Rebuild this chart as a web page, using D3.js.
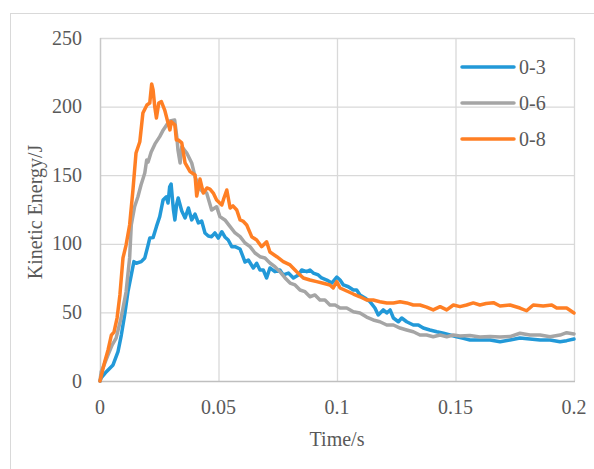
<!DOCTYPE html>
<html><head><meta charset="utf-8">
<script src="https://cdn.jsdelivr.net/npm/d3@7"></script>
<style>body{margin:0;background:#fff}svg{display:block}text{font-family:"Liberation Serif","Times New Roman",serif;fill:#595959}</style>
</head><body><div id="chart"></div>
<script>
const seriesNames = ["0-3","0-6","0-8"];
const seriesColors = ["#2299d8","#a5a5a5","#ff7f24"];
const xTicks = [0,0.05,0.1,0.15,0.2];
const xTickLabels = ["0","0.05","0.1","0.15","0.2"];
const yTicks = [0,50,100,150,200,250];
const yTickLabels = ["0","50","100","150","200","250"];

// 0-3
const t03 = [0,0.0005,0.0027,0.0055,0.0076,0.0090,0.0104,0.0118,0.0132,0.0143,0.0153,0.0174,0.0189,0.0203,0.0210,0.0224,0.0238,0.0252,0.0266,0.0280,0.0287,0.0294,0.0300,0.0306,0.0310,0.0316,0.0323,0.0330,0.0345,0.0359,0.0373,0.0387,0.0401,0.0415,0.0429,0.0443,0.0457,0.0471,0.0485,0.0499,0.0514,0.0527,0.0541,0.0556,0.0570,0.0591,0.0612,0.0626,0.0647,0.0661,0.0675,0.0689,0.0703,0.0717,0.0738,0.0759,0.0773,0.0795,0.0816,0.0837,0.0851,0.0872,0.0886,0.0900,0.0921,0.0935,0.0957,0.0978,0.0999,0.1013,0.1027,0.1048,0.1069,0.1083,0.1097,0.1118,0.1139,0.1160,0.1174,0.1195,0.1210,0.1224,0.1238,0.1259,0.1273,0.1294,0.1322,0.1343,0.1364,0.1392,0.1421,0.1449,0.1477,0.1505,0.1533,0.1561,0.1603,0.1646,0.1688,0.1730,0.1772,0.1814,0.1857,0.1899,0.1941,0.1969,0.2];
const v03 = [0,2.2,6.8,11.7,21.4,33.5,48.1,65.1,77.3,87.0,85.8,87.0,89.7,99.1,104.2,104.5,112.5,119.8,131.9,134.3,129.7,141.6,143.6,131.9,124.6,117.4,128.3,133.4,123.9,118.8,126.1,117.4,121.7,115.2,116.6,107.9,105.7,105.2,107.9,104.2,108.8,105.0,102.8,97.9,97.9,96.2,86.7,88.2,82.4,85.8,80.9,80.9,75.1,82.4,79.7,80.9,77.3,78.7,75.1,77.3,80.9,79.7,80.9,78.7,77.3,75.1,73.6,71.4,75.8,73.6,70.0,68.7,66.3,66.3,62.7,60.5,57.8,53.2,48.1,51.8,49.6,51.8,45.9,43.2,45.9,43.2,40.8,40.8,38.6,37.2,35.9,34.8,33.5,32.3,31.1,29.9,29.9,29.9,28.6,29.9,31.3,30.6,29.9,29.9,28.6,29.4,30.6];

// 0-6
const t06 = [0,0.0005,0.0017,0.0034,0.0051,0.0068,0.0089,0.0110,0.0125,0.0132,0.0146,0.0160,0.0173,0.0189,0.0197,0.0203,0.0216,0.0232,0.0252,0.0267,0.0281,0.0295,0.0315,0.0324,0.0329,0.0338,0.0345,0.0366,0.0387,0.0401,0.0422,0.0435,0.0450,0.0471,0.0492,0.0506,0.0527,0.0549,0.0570,0.0591,0.0612,0.0633,0.0654,0.0675,0.0696,0.0717,0.0738,0.0759,0.0781,0.0802,0.0823,0.0844,0.0865,0.0886,0.0907,0.0928,0.0949,0.0970,0.0992,0.1013,0.1041,0.1069,0.1097,0.1125,0.1153,0.1181,0.1210,0.1238,0.1266,0.1294,0.1322,0.1350,0.1378,0.1406,0.1435,0.1463,0.1491,0.1519,0.1561,0.1603,0.1646,0.1688,0.1730,0.1772,0.1814,0.1857,0.1899,0.1941,0.1969,0.2];
const v06 = [0,6.8,11.7,19.0,26.2,31.3,45.9,64.9,89.7,113.7,127.0,134.3,142.9,151.6,161.1,159.6,166.9,172.8,178.1,183.0,186.6,189.5,190.2,178.1,168.4,158.9,170.8,166.2,158.9,148.9,139.9,137.8,137.0,124.6,127.0,119.8,117.4,112.5,107.9,105.2,100.6,97.9,93.3,90.6,89.7,86.0,83.3,79.7,75.1,71.4,70.0,66.3,65.1,61.4,62.7,59.0,59.0,55.4,55.4,53.2,53.2,50.5,49.6,46.6,44.5,43.2,40.8,40.8,38.6,37.2,35.9,33.5,33.5,32.3,33.5,32.3,33.5,32.8,33.2,32.1,32.4,32.1,32.4,34.8,33.5,33.5,32.3,33.5,35.2,34.3];

// 0-8
const t08 = [0,0.0020,0.0034,0.0048,0.0059,0.0072,0.0084,0.0097,0.0110,0.0125,0.0139,0.0152,0.0168,0.0181,0.0198,0.0210,0.0218,0.0224,0.0231,0.0238,0.0248,0.0259,0.0273,0.0287,0.0295,0.0301,0.0316,0.0322,0.0330,0.0345,0.0359,0.0371,0.0380,0.0401,0.0408,0.0422,0.0436,0.0451,0.0464,0.0478,0.0492,0.0514,0.0523,0.0535,0.0549,0.0561,0.0577,0.0591,0.0603,0.0619,0.0640,0.0661,0.0682,0.0703,0.0717,0.0746,0.0773,0.0802,0.0830,0.0858,0.0886,0.0914,0.0942,0.0970,0.0984,0.0999,0.1013,0.1041,0.1069,0.1097,0.1125,0.1153,0.1181,0.1210,0.1238,0.1266,0.1294,0.1322,0.1350,0.1378,0.1406,0.1435,0.1463,0.1491,0.1519,0.1547,0.1575,0.1603,0.1629,0.1660,0.1688,0.1730,0.1772,0.1800,0.1828,0.1870,0.1906,0.1927,0.1969,0.2];
const v08 = [0,14.1,22.6,33.5,35.7,45.9,62.7,89.7,99.1,113.7,139.2,166.2,174.4,195.3,201.2,202.6,216.5,212.1,199.9,191.7,202.6,203.6,197.5,188.1,183.0,189.0,186.6,175.7,175.7,173.5,158.9,155.3,152.6,150.2,134.8,147.2,137.0,140.7,139.9,137.0,131.9,128.3,133.4,139.2,126.1,127.6,124.6,117.4,116.6,113.7,105.2,102.8,97.9,101.5,94.0,90.6,87.0,84.6,79.7,75.1,73.6,72.4,71.2,70.0,67.8,72.4,67.8,65.6,63.4,61.4,59.0,59.0,57.8,56.9,56.9,57.8,56.9,55.4,55.4,53.9,51.8,54.2,51.8,55.4,54.2,55.4,56.9,55.4,56.5,57.1,54.7,55.4,53.2,51.2,55.4,54.7,55.4,53.2,53.2,49.6];

const seriesT = [t03,t06,t08];
const seriesV = [v03,v06,v08];

const W = 594, H = 469;
const svg = d3.select("#chart").append("svg").attr("width",W).attr("height",H);
svg.append("rect").attr("x",10.5).attr("y",13.5).attr("width",W+20).attr("height",H+20)
  .attr("fill","#fff").attr("stroke","#d9d9d9").attr("stroke-width",1);

const m = {left:100,right:574,top:38,bottom:381};
const x = d3.scaleLinear().domain([0,0.2]).range([m.left,m.right]);
const y = d3.scaleLinear().domain([0,250]).range([m.bottom,m.top]);

// gridlines
const g = svg.append("g");
g.selectAll("line.h").data(yTicks.slice(1)).enter().append("line")
  .attr("x1",m.left).attr("x2",m.right).attr("y1",d=>y(d)+0.5).attr("y2",d=>y(d)+0.5)
  .attr("stroke","#d9d9d9").attr("stroke-width",1.3);
g.selectAll("line.v").data(xTicks.slice(1)).enter().append("line")
  .attr("y1",m.top).attr("y2",m.bottom).attr("x1",d=>x(d)+0.5).attr("x2",d=>x(d)+0.5)
  .attr("stroke","#d9d9d9").attr("stroke-width",1.3);
// y axis line
g.append("line").attr("x1",m.left+0.5).attr("x2",m.left+0.5).attr("y1",m.top).attr("y2",m.bottom)
  .attr("stroke","#c8c8c8").attr("stroke-width",1.5);
// x axis line
g.append("line").attr("x1",m.left).attr("x2",m.right+1).attr("y1",m.bottom+0.5).attr("y2",m.bottom+0.5)
  .attr("stroke","#bfbfbf").attr("stroke-width",1.5);

// tick labels
svg.append("g").selectAll("text").data(yTicks).enter().append("text")
  .attr("x",82).attr("y",d=>y(d)).attr("dy","0.33em").attr("text-anchor","end")
  .attr("font-size",20).text((d,i)=>yTickLabels[i]);
svg.append("g").selectAll("text").data(xTicks).enter().append("text")
  .attr("x",d=>x(d)).attr("y",414).attr("text-anchor","middle")
  .attr("font-size",20).text((d,i)=>xTickLabels[i]);

svg.append("text").attr("x",337).attr("y",446).attr("text-anchor","middle").attr("font-size",20).text("Time/s");
svg.append("text").attr("transform","translate(42,212) rotate(-90)").attr("text-anchor","middle").attr("font-size",20).text("Kinetic Energy/J");

// lines
const line = d3.line().x(d=>x(d[0])).y(d=>y(d[1])).curve(d3.curveLinear);
seriesNames.forEach((name,i)=>{
  const pts = seriesT[i].map((t,j)=>[t,seriesV[i][j]]);
  svg.append("path").datum(pts).attr("d",line).attr("fill","none")
    .attr("stroke",seriesColors[i]).attr("stroke-width",3.5)
    .attr("stroke-linejoin","round").attr("stroke-linecap","round");
});

// legend
const legY = [67,103,139];
const lg = svg.append("g");
seriesNames.forEach((name,i)=>{
  lg.append("line").attr("x1",462).attr("x2",514).attr("y1",legY[i]).attr("y2",legY[i])
    .attr("stroke",seriesColors[i]).attr("stroke-width",3.5).attr("stroke-linecap","round");
  lg.append("text").attr("x",519).attr("y",legY[i]).attr("dy","0.33em").attr("font-size",20).text(name);
});
</script></body></html>
